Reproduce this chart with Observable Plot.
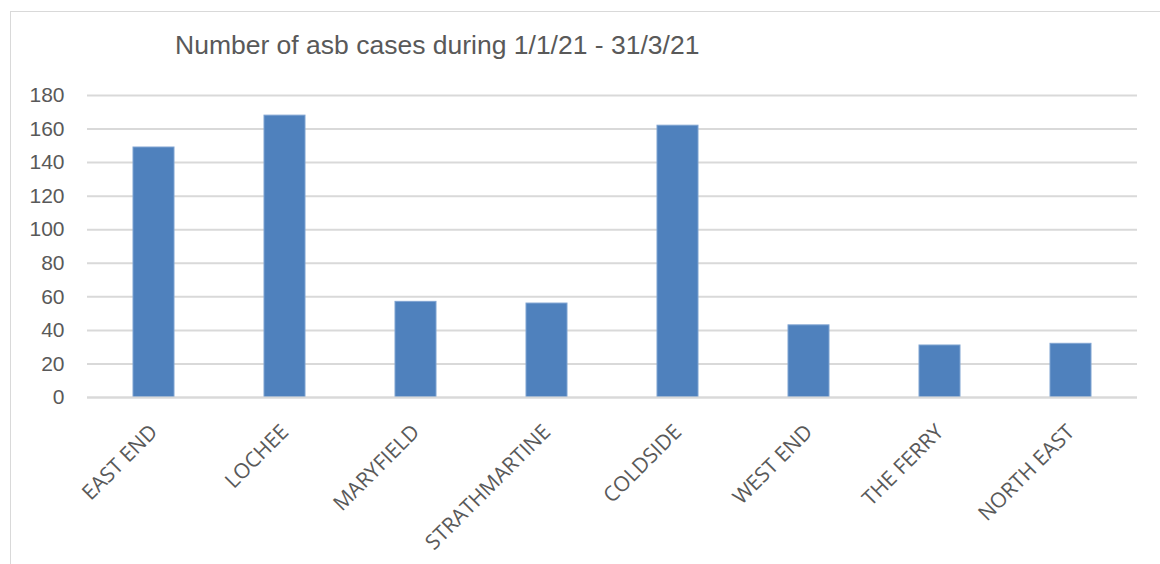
<!DOCTYPE html>
<html>
<head>
<meta charset="utf-8">
<script src="https://cdn.jsdelivr.net/npm/d3@7"></script>
<script src="https://cdn.jsdelivr.net/npm/@observablehq/plot@0.6"></script>
<style>
  html, body { margin: 0; padding: 0; background: #fff; }
  #wrap { position: relative; width: 1160px; height: 564px; overflow: hidden; }
  #frame { position: absolute; left: 10px; top: 11px; width: 1200px; height: 600px; border: 1px solid #D9D9D9; box-sizing: border-box; }
  #title { position: absolute; left: 175px; top: 30px; font-family: "Liberation Sans", Arial, sans-serif; font-size: 26.5px; color: #595959; white-space: nowrap; }
  #chart { position: absolute; left: 0; top: 0; }
</style>
</head>
<body>
<div id="wrap">
  <div id="frame"></div>
  <div id="chart"></div>
  <div id="title">Number of asb cases during 1/1/21 - 31/3/21</div>
</div>
<script>
const areas = ["EAST END", "LOCHEE", "MARYFIELD", "STRATHMARTINE", "COLDSIDE", "WEST END", "THE FERRY", "NORTH EAST"];
const cases = [149, 168, 57, 56, 162, 43, 31, 32];
const yTicks = [0, 20, 40, 60, 80, 100, 120, 140, 160, 180];

const data = areas.map((a, i) => ({area: a, value: cases[i]}));

const chart = Plot.plot({
  width: 1160,
  height: 564,
  marginLeft: 87,
  marginRight: 23,
  marginTop: 95,
  marginBottom: 167,
  style: {background: "transparent", color: "#595959"},
  x: {domain: areas, paddingInner: 0.69, paddingOuter: 0.345, label: null},
  y: {domain: [0, 180], label: null},
  marks: [
    Plot.gridY(yTicks, {stroke: "#D9D9D9", strokeOpacity: 1, strokeWidth: 2}),
    Plot.barY(data, {x: "area", y: "value", fill: "#4F81BD", stroke: "#7FA3D1", strokeWidth: 1}),
    Plot.ruleY([0], {stroke: "#D9D9D9", strokeWidth: 2}),
    Plot.axisY(yTicks, {tickSize: 0, tickPadding: 23, fontSize: 21, fontFamily: "Liberation Sans, Arial, sans-serif", fill: "#595959", label: null}),
    Plot.axisX({tickSize: 0, tickPadding: 31, tickRotate: -45, fontSize: 21, fontFamily: "Open Sans, sans-serif", fill: "#595959", label: null})
  ]
});
document.getElementById("chart").appendChild(chart);
</script>
</body>
</html>
